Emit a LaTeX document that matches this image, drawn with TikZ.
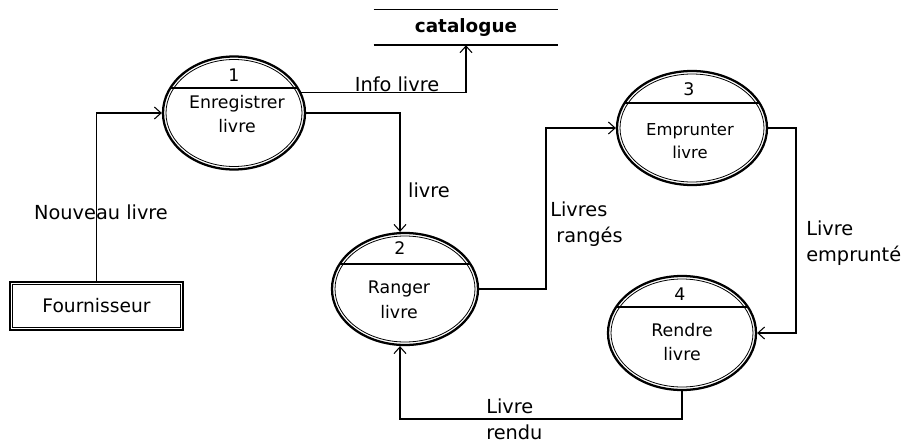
\documentclass[tikz,border=0pt]{standalone}
\usepackage{fontspec}
\setmainfont{DejaVu Sans}
\usetikzlibrary{shapes.geometric,arrows.meta,calc}
\begin{document}
\begin{tikzpicture}[x=0.75pt,y=-0.75pt,
  font=\fontsize{13}{18.5}\selectfont,
  arr/.style={-{Straight Barb[length=5pt,width=9pt]}, line width=0.8pt},
  proc/.style={ellipse, draw, line width=1.7pt, inner sep=0pt},
  inner/.style={line width=0.6pt},
  chord/.style={line width=0.9pt},
  flow/.style={inner sep=0pt, font=\fontsize{14.5}{19.5}\selectfont},
  lab/.style={flow, align=left, anchor=west}]
\useasboundingbox (0,0) rectangle (907,443);

% data store
\node[minimum width=138pt, minimum height=26.25pt, inner sep=0pt, font=\fontsize{13.8}{16}\selectfont\bfseries] (cat) at (466,27.5) {catalogue};
\draw[line width=0.7pt] (cat.north west) -- (cat.north east);
\draw[line width=1.2pt] (cat.south west) -- (cat.south east);

% external entity
\node[draw, line width=1.7pt, minimum width=129.75pt, minimum height=36pt, inner sep=0pt, font=\fontsize{14}{16}\selectfont] (f) at (96.5,306) {Fournisseur};
\draw[inner] ($(f.north west)+(4,4)$) rectangle ($(f.south east)+(-4,-4)$);

% processes
\node[proc, minimum width=106.5pt, minimum height=84.75pt] (p1) at (234,113) {};
\draw[inner] (p1.center) ellipse (68 and 53.5);
\begin{scope}\clip (p1.center) ellipse (71 and 56.5);
\draw[chord] (150,88) -- (320,88);\end{scope}
\node (p1n) at (234,75) {1};
\node[align=center, inner sep=0pt] (p1t) at (237,114) {Enregistrer\\livre};

\node[proc, minimum width=109.5pt, minimum height=84pt] (p2) at (405,289) {};
\draw[inner] (p2.center) ellipse (70 and 53);
\begin{scope}\clip (p2.center) ellipse (73 and 56);
\draw[chord] (320,264) -- (490,264);\end{scope}
\node (p2n) at (400,248) {2};
\node[align=center, inner sep=0pt] (p2t) at (399,300) {Ranger\\livre};

\node[proc, minimum width=112.5pt, minimum height=85.5pt] (p3) at (692,128) {};
\draw[inner] (p3.center) ellipse (72 and 54);
\begin{scope}\clip (p3.center) ellipse (75 and 57);
\draw[chord] (600,103) -- (780,103);\end{scope}
\node (p3n) at (689,89) {3};
\node[align=center, inner sep=0pt, font=\fontsize{12.3}{17}\selectfont] (p3t) at (690,141) {Emprunter\\livre};

\node[proc, minimum width=111pt, minimum height=85.5pt] (p4) at (682,333) {};
\draw[inner] (p4.center) ellipse (71 and 54);
\begin{scope}\clip (p4.center) ellipse (74 and 57);
\draw[chord] (590,307) -- (780,307);\end{scope}
\node (p4n) at (680,294) {4};
\node[align=center, inner sep=0pt] (p4t) at (682,342) {Rendre\\livre};

% helper coordinates
\coordinate (k1) at (546,0);
\coordinate (k2) at (796,0);
\coordinate (k3) at (0,419);

% connectors
\draw[arr] (f.north) |- (p1.west);
\draw[arr] (p1.17) -| (cat.south);
\draw[arr] (p1.east) -| ([xshift=-3.75pt]p2.north);
\draw[arr] (p2.east) -- (p2.east -| k1) |- (p3.west);
\draw[arr] (p3.east) -- (p3.east -| k2) |- (p4.east);
\draw[arr] (p4.south) -- (p4.south |- k3) -| ([xshift=-3.75pt]p2.south);

% labels
\node[flow] (l1) at (101,212) {Nouveau livre};
\node[flow] (l2) at (397,84) {Info livre};
\node[flow] (l3) at (429,190) {livre};
\node[lab] (l4) at (550,224) {Livres\\\ rangés};
\node[lab] (l5) at (806,243) {Livre\\emprunté};
\node[lab] (l6) at (486,419) {Livre\\rendu};
\end{tikzpicture}
\end{document}
